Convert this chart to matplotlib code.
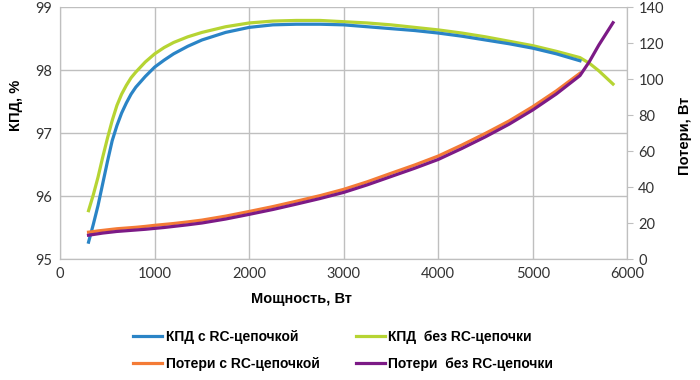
import numpy as np
import matplotlib
matplotlib.use('Agg')
import matplotlib.pyplot as plt

# Power, W
x_rc = [300, 350, 400, 450, 500, 550, 600, 650, 700, 750, 800, 900, 1000, 1100, 1200, 1350, 1500,
        1750, 2000, 2250, 2500, 2750, 3000, 3250, 3500, 3750, 4000, 4250, 4500, 4750, 5000, 5250, 5500]
x_norc = x_rc + [5600, 5700, 5850]

# Efficiency, %
eff_rc = [95.27, 95.55, 95.85, 96.2, 96.55, 96.88, 97.12, 97.32, 97.48, 97.62, 97.73, 97.9, 98.05, 98.16,
          98.26, 98.38, 98.48, 98.6, 98.68, 98.72, 98.73, 98.73, 98.72, 98.69, 98.66, 98.63, 98.59,
          98.54, 98.48, 98.42, 98.35, 98.26, 98.15]
eff_norc = [95.77, 96.02, 96.3, 96.62, 96.92, 97.2, 97.44, 97.62, 97.76, 97.88, 97.97, 98.13, 98.26, 98.36,
            98.44, 98.53, 98.6, 98.69, 98.75, 98.78, 98.79, 98.79, 98.77, 98.75, 98.72, 98.68, 98.64,
            98.59, 98.53, 98.46, 98.39, 98.3, 98.2, 98.11, 97.99, 97.78]

# Losses, W
loss_rc = [15.0, 15.3, 15.7, 16.0, 16.3, 16.6, 16.9, 17.1, 17.3, 17.5, 17.7, 18.2, 18.8, 19.3, 19.8,
           20.7, 21.7, 23.9, 26.5, 29.2, 32.2, 35.3, 38.8, 43.0, 47.7, 52.3, 57.3, 63.4, 69.9, 76.8,
           84.7, 93.5, 103.3]
loss_norc = [13.3, 13.7, 14.1, 14.5, 14.8, 15.1, 15.4, 15.6, 15.8, 16.0, 16.2, 16.6, 17.1, 17.6, 18.2,
             19.1, 20.1, 22.3, 24.9, 27.6, 30.6, 33.7, 37.1, 41.3, 45.9, 50.5, 55.4, 61.5, 68.0, 75.0,
             82.9, 91.8, 102.0, 109.8, 119.0, 131.4]

plt.rcParams['font.family'] = ['Liberation Sans', 'DejaVu Sans']

fig = plt.figure(figsize=(7, 3.8), dpi=100)
ax1 = fig.add_axes([0.086, 0.318, 0.81, 0.663])
ax2 = ax1.twinx()

grid_c = '#bfbfbf'
lw = 2.3

l1, = ax1.plot(x_rc, eff_rc, color='#2a84c6', lw=lw, label='КПД с RC-цепочкой', zorder=3,
               solid_joinstyle='round')
l2, = ax1.plot(x_norc, eff_norc, color='#b6d433', lw=lw, label='КПД  без RC-цепочки', zorder=2,
               solid_joinstyle='round')
l3, = ax2.plot(x_rc, loss_rc, color='#f47b36', lw=lw, label='Потери с RC-цепочкой',
               solid_joinstyle='round')
l4, = ax2.plot(x_norc, loss_norc, color='#7c1a86', lw=lw, label='Потери  без RC-цепочки',
               solid_joinstyle='round')

ax1.set_xlim(0, 6000)
ax1.set_ylim(95, 99)
ax2.set_ylim(0, 140)
ax1.set_xticks(np.arange(0, 6001, 1000))
ax1.set_yticks([95, 96, 97, 98, 99])
ax2.set_yticks(np.arange(0, 141, 20))

ax1.grid(True, color=grid_c, lw=1.0)
ax1.set_axisbelow(True)

for ax in (ax1, ax2):
    for s in ax.spines.values():
        s.set_color(grid_c)
    ax.spines['top'].set_visible(False)

ax1.tick_params(axis='both', length=0, labelsize=10.5, colors='#333333', pad=6)
ax2.tick_params(axis='y', length=4, color=grid_c, labelsize=10.5, labelcolor='#333333', pad=4)
for lab in ax1.get_xticklabels() + ax1.get_yticklabels() + ax2.get_yticklabels():
    lab.set_family(['Lato', 'DejaVu Sans'])

ax1.set_xlabel('Мощность, Вт', fontsize=10.5, fontweight='bold')
ax1.set_ylabel('КПД, %', fontsize=10.5, fontweight='bold')
ax2.set_ylabel('Потери, Вт', fontsize=10.5, fontweight='bold')
ax1.xaxis.set_label_coords(0.425, -0.131)
ax1.yaxis.set_label_coords(-0.066, 0.61)
ax2.yaxis.set_label_coords(1.09, 0.49)

fig.legend(handles=[l1, l3, l2, l4], ncol=2, frameon=False,
           prop={'weight': 'bold', 'size': 10},
           loc='upper left', bbox_to_anchor=(133 / 700, 1 - 330 / 380),
           borderaxespad=0, borderpad=0,
           handlelength=2.1, handletextpad=0.25, columnspacing=2.6, labelspacing=0.95)

fig.savefig('out.png', dpi=100)
